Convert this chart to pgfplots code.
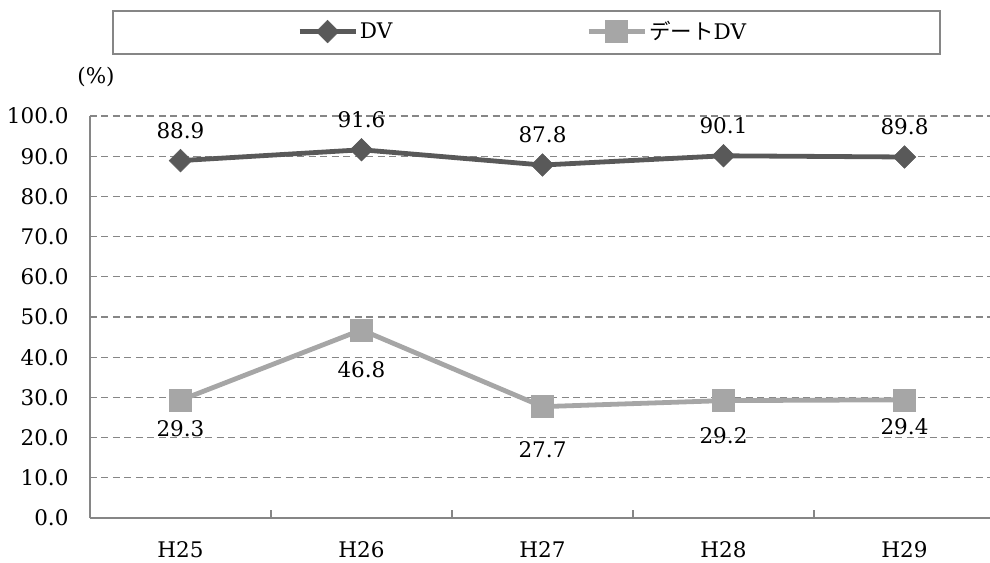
\documentclass[border=0pt]{standalone}
\usepackage{pgfplots}
\pgfplotsset{compat=1.18}
\usepackage{fontspec}
\setmainfont{DejaVu Serif}
\newfontfamily\jp{Noto Sans CJK JP}
\definecolor{dvdark}{HTML}{595959}
\definecolor{dvlight}{HTML}{A6A6A6}
\definecolor{axgray}{HTML}{868686}
\begin{document}
\begin{tikzpicture}[font=\fontsize{21.5bp}{25bp}\selectfont]
\useasboundingbox (-90bp,-45bp) rectangle (900bp,518bp);
% legend frame
\draw[axgray, line width=1.2bp] (23bp,464bp) rectangle (850bp,507bp);
\node at (6bp,441bp) {(\%)};
\begin{axis}[
    scale only axis, width=905bp, height=402bp,
    xmin=-0.5, xmax=4.5, ymin=0, ymax=100,
    axis lines=left,
    axis line style={-, axgray, line width=1.5bp},
    xtick={0,...,4}, xticklabels={H25,H26,H27,H28,H29},
    minor xtick={0.5,1.5,2.5,3.5},
    major x tick style={draw=none},
    minor x tick style={axgray, line width=1.2bp},
    minor tick length=8bp,
    tick align=inside,
    ytick={0,10,...,100},
    major y tick style={draw=none},
    ymajorgrids,
    grid style={axgray, line width=1.2bp, dash pattern=on 7bp off 4.5bp},
    /pgf/number format/assume math mode=true,
    y tick label style={/pgf/number format/fixed, /pgf/number format/fixed zerofill,
        /pgf/number format/precision=1, xshift=-18bp},
    xticklabel style={yshift=-20bp},
    clip=false,
    legend columns=2,
    legend style={at={(0.478,1.21)}, anchor=center, draw=none, fill=none,
        /tikz/every even column/.append style={column sep=192bp}},
    legend image code/.code={
        \draw[mark repeat=2, mark phase=2, #1]
            plot coordinates {(0bp,0bp) (28bp,0bp) (56bp,0bp)};},
    nodes near coords={\pgfmathprintnumber[fixed,fixed zerofill,precision=1]{\pgfplotspointmeta}},
]
\addplot[dvdark, line width=4.8bp, mark=square*, mark size=8bp,
    mark options={rotate=45, solid, line width=0.5bp},
    every node near coord/.append style={anchor=center, yshift=30bp, text=black}]
    coordinates {(0,88.9) (1,91.6) (2,87.8) (3,90.1) (4,89.8)};
\addlegendentry{DV}
\addplot[dvlight, line width=4.8bp, mark=square*, mark size=11bp,
    mark options={solid, line width=0.5bp},
    visualization depends on={\thisrow{off}\as\off},
    every node near coord/.append style={anchor=center, yshift=-\off bp, text=black}]
    table {
x y off
0 29.3 28
1 46.8 40
2 27.7 43
3 29.2 35
4 29.4 27
};
\addlegendentry{{\jp デート}DV}
\end{axis}
\end{tikzpicture}
\end{document}
